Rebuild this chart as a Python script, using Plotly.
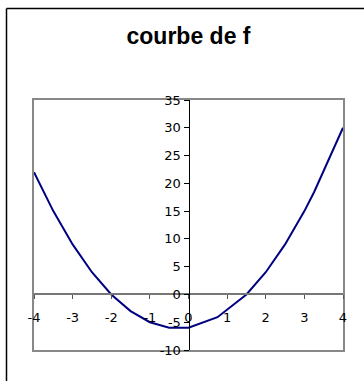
import plotly.graph_objects as go

# Values of f at the plotted abscissas
x_vals = [-4, -3.5, -3, -2.5, -2, -1.5, -1, -0.5, 0, 0.75, 1.5, 2, 2.5, 3, 3.25, 4]
y_vals = [22, 15, 9, 4, 0, -3, -5, -6, -6, -4.1, 0, 4, 9, 15, 18.4, 30]

x_ticks = [-4, -3, -2, -1, 0, 1, 2, 3, 4]
y_ticks = [-10, -5, 0, 5, 10, 15, 20, 25, 30, 35]

X_RANGE = [-4, 4]
Y_RANGE = [-10, 35]

tick_font = dict(family="DejaVu Sans", size=13, color="black")

fig = go.Figure()
# invisible trace that keeps the frame axes alive
fig.add_trace(go.Scatter(
    x=X_RANGE, y=Y_RANGE, mode="markers", marker=dict(opacity=0, size=1),
    xaxis="x", yaxis="y", showlegend=False, hoverinfo="skip",
))
# the curve, drawn on the axes that cross at the origin
fig.add_trace(go.Scatter(
    x=x_vals, y=y_vals, mode="lines",
    line=dict(color="#000080", width=2),
    xaxis="x2", yaxis="y2", showlegend=False,
))

fig.update_layout(
    width=364, height=381,
    margin=dict(l=34, r=21, t=100, b=31),
    paper_bgcolor="white", plot_bgcolor="white",
    title=dict(
        text="<b>courbe de f</b>",
        font=dict(family="Liberation Sans", size=23, color="black"),
        x=0.5, xref="paper", xanchor="center",
        y=1 - 36 / 381, yref="container", yanchor="middle",
    ),
    # plot-area frame
    xaxis=dict(range=X_RANGE, showline=True, mirror=True, linecolor="#888888",
               linewidth=2, showticklabels=False, ticks="", showgrid=False,
               zeroline=False, fixedrange=True),
    yaxis=dict(range=Y_RANGE, showline=True, mirror=True, linecolor="#888888",
               linewidth=2, showticklabels=False, ticks="", showgrid=False,
               zeroline=False, fixedrange=True),
    # axes crossing at the origin
    xaxis2=dict(range=X_RANGE, overlaying="x", anchor="free",
                position=(0 - Y_RANGE[0]) / (Y_RANGE[1] - Y_RANGE[0]),
                side="bottom", tickmode="array", tickvals=x_ticks,
                ticktext=[str(v) for v in x_ticks],
                ticks="outside", ticklen=4, tickcolor="#555555", tickwidth=1,
                showline=True, linecolor="#777777", linewidth=2,
                showgrid=False, zeroline=False, tickfont=tick_font,
                ticklabelstandoff=7, fixedrange=True),
    yaxis2=dict(range=Y_RANGE, overlaying="y", anchor="free",
                position=(0 - X_RANGE[0]) / (X_RANGE[1] - X_RANGE[0]),
                side="left", tickmode="array", tickvals=y_ticks,
                ticktext=[str(v) for v in y_ticks],
                ticks="outside", ticklen=5, tickcolor="black", tickwidth=1,
                showline=True, linecolor="black", linewidth=1,
                showgrid=False, zeroline=False, tickfont=tick_font,
                fixedrange=True),
    shapes=[
        dict(type="line", xref="paper", yref="paper",
             x0=-0.089, x1=-0.089, y0=-0.3, y1=1.366,
             line=dict(color="black", width=1.5)),
        dict(type="line", xref="paper", yref="paper",
             x0=-0.089, x1=1.2, y0=1.366, y1=1.366,
             line=dict(color="black", width=1.5)),
    ],
)

fig.write_html("out.html")
